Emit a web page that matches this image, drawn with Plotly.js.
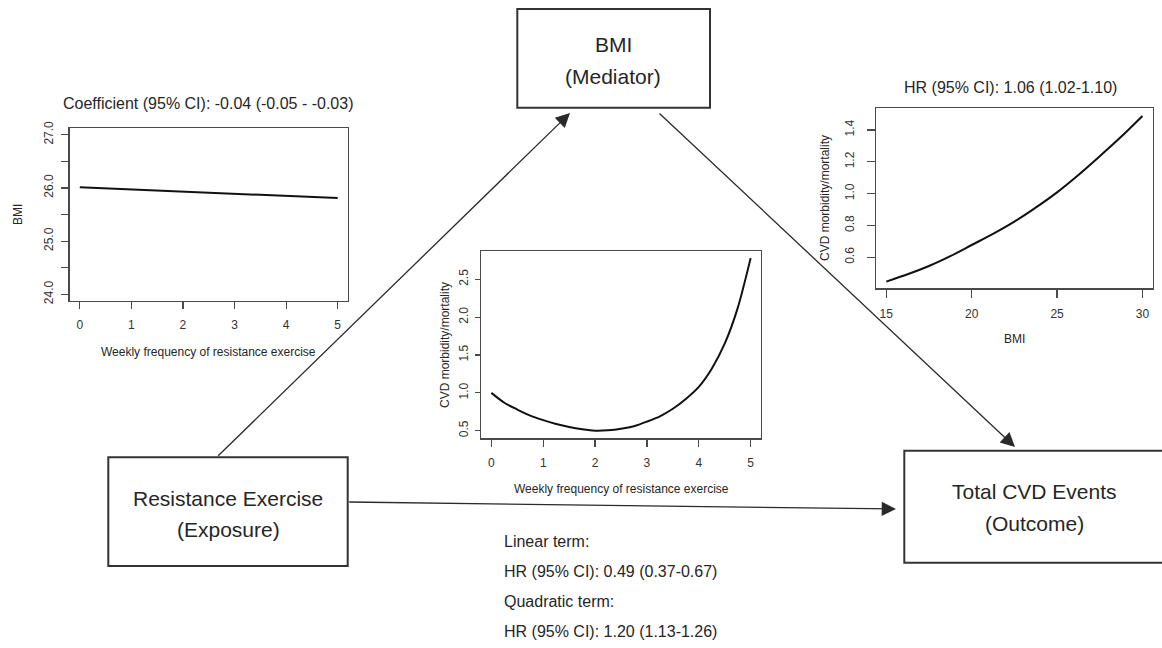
<!DOCTYPE html>
<html>
<head>
<meta charset="utf-8">
<script src="https://cdn.plot.ly/plotly-3.0.1.min.js"></script>
<style>html,body{margin:0;padding:0;background:#fff;}#chart{width:1162px;height:648px;}</style>
</head>
<body>
<div id="chart"></div>
<script>
// ---- data ----
// Panel 1: BMI vs weekly frequency of resistance exercise
var freqLin = [0, 1, 2, 3, 4, 5];
var bmiByFreq = [26.01, 25.97, 25.93, 25.89, 25.85, 25.81];
var bmiPanelTitle = "Coefficient (95% CI): -0.04 (-0.05 - -0.03)";

// Panel 2: CVD morbidity/mortality vs weekly frequency
var freqQuad = [0, 0.25, 0.5, 0.75, 1, 1.25, 1.5, 1.75, 2, 2.25, 2.5, 2.75, 3, 3.25, 3.5, 3.75, 4, 4.25, 4.5, 4.75, 5];
var cvdByFreq = [1.00, 0.87, 0.78, 0.70, 0.64, 0.59, 0.55, 0.52, 0.50, 0.505, 0.525, 0.56, 0.62, 0.69, 0.79, 0.92, 1.08, 1.32, 1.65, 2.12, 2.78];

// Panel 3: CVD morbidity/mortality vs BMI
var bmiVals = [15, 16.25, 17.5, 18.75, 20, 21.25, 22.5, 23.75, 25, 26.25, 27.5, 28.75, 30];
var cvdByBmi = [0.447, 0.493, 0.545, 0.607, 0.677, 0.747, 0.824, 0.912, 1.008, 1.117, 1.235, 1.357, 1.488];
var bmiHrTitle = "HR (95% CI): 1.06 (1.02-1.10)";

// Tick labels
var p1YTicks = [24, 24.5, 25, 25.5, 26, 26.5, 27];
var p1YText = ["24.0", "", "25.0", "", "26.0", "", "27.0"];
var freqTicks = [0, 1, 2, 3, 4, 5];
var p2YTicks = [0.5, 1.0, 1.5, 2.0, 2.5];
var p2YText = ["0.5", "1.0", "1.5", "2.0", "2.5"];
var p3XTicks = [15, 20, 25, 30];
var p3YTicks = [0.6, 0.8, 1.0, 1.2, 1.4];
var p3YText = ["0.6", "0.8", "1.0", "1.2", "1.4"];

// Diagram texts
var boxExposure = ["Resistance Exercise", "(Exposure)"];
var boxMediator = ["BMI", "(Mediator)"];
var boxOutcome = ["Total CVD Events", "(Outcome)"];
var effectLines = ["Linear term:", "HR (95% CI): 0.49 (0.37-0.67)", "Quadratic term:", "HR (95% CI): 1.20 (1.13-1.26)"];
var xTitleFreq = "Weekly frequency of resistance exercise";
var yTitleCvd = "CVD morbidity/mortality";

// ---- layout helpers ----
var W = 1162, H = 648;
function PX(x) { return x / W; }
function PY(y) { return 1 - y / H; }
var FONT = "Liberation Sans, Arial, Helvetica, sans-serif";
var INK = "#262626";

function axisBase(extra) {
  var a = {
    showline: true, mirror: true, linecolor: "#4a4a4a", linewidth: 1.3,
    ticks: "outside", ticklen: 7, tickwidth: 1.2, tickcolor: "#4a4a4a",
    showgrid: false, zeroline: false, fixedrange: true,
    tickfont: {family: FONT, size: 12, color: "#333"}
  };
  for (var k in extra) a[k] = extra[k];
  return a;
}

var traces = [
  {x: freqLin, y: bmiByFreq, xaxis: "x", yaxis: "y", mode: "lines",
   line: {color: "#111", width: 2}, hoverinfo: "skip"},
  {x: freqQuad, y: cvdByFreq, xaxis: "x2", yaxis: "y2", mode: "lines",
   line: {color: "#111", width: 2, shape: "spline", smoothing: 0.8}, hoverinfo: "skip"},
  {x: bmiVals, y: cvdByBmi, xaxis: "x3", yaxis: "y3", mode: "lines",
   line: {color: "#111", width: 2, shape: "spline", smoothing: 0.8}, hoverinfo: "skip"}
];

var layout = {
  width: W, height: H,
  margin: {l: 0, r: 0, t: 0, b: 0, pad: 0},
  paper_bgcolor: "#fff", plot_bgcolor: "#fff",
  showlegend: false,
  xaxis: axisBase({domain: [PX(69.5), PX(348)], range: [-0.2, 5.2], tickvals: freqTicks, ticklabelstandoff: 6, anchor: "y"}),
  yaxis: axisBase({domain: [PY(300.7), PY(128.3)], range: [23.88, 27.12], tickvals: p1YTicks, ticktext: p1YText, tickangle: -90, ticklabelstandoff: 3, anchor: "x"}),
  xaxis2: axisBase({domain: [PX(481), PX(761)], range: [-0.2, 5.2], tickvals: freqTicks, ticklabelstandoff: 6, anchor: "y2"}),
  yaxis2: axisBase({domain: [PY(438.3), PY(251)], range: [0.40, 2.874], tickvals: p2YTicks, ticktext: p2YText, tickangle: -90, ticklen: 5, ticklabelstandoff: 2, anchor: "x2"}),
  xaxis3: axisBase({domain: [PX(876), PX(1152.7)], range: [14.4, 30.6], tickvals: p3XTicks, ticklen: 8, ticklabelstandoff: 6, anchor: "y3"}),
  yaxis3: axisBase({domain: [PY(288.3), PY(108.3)], range: [0.405, 1.536], tickvals: p3YTicks, ticktext: p3YText, tickangle: -90, ticklen: 8, ticklabelstandoff: 8, anchor: "x3"}),
  shapes: [],
  annotations: []
};

function rect(x0, y0, x1, y1) {
  layout.shapes.push({type: "rect", xref: "paper", yref: "paper",
    x0: PX(x0), x1: PX(x1), y0: PY(y1), y1: PY(y0),
    line: {color: "#333", width: 2}, fillcolor: "rgba(0,0,0,0)"});
}
function txt(s, x, y, size, opts) {
  var a = {text: s, x: PX(x), y: PY(y), xref: "paper", yref: "paper",
    showarrow: false, xanchor: "center", yanchor: "middle",
    font: {family: FONT, size: size, color: INK}};
  if (opts) for (var k in opts) a[k] = opts[k];
  layout.annotations.push(a);
}
function arrow(tx, ty, hx, hy) {
  layout.annotations.push({text: "", x: PX(hx), y: PY(hy), xref: "paper", yref: "paper",
    ax: tx - hx, ay: ty - hy, axref: "pixel", ayref: "pixel",
    showarrow: true, arrowhead: 2, arrowsize: 2.2, arrowwidth: 1.3, arrowcolor: "#2a2a2a",
    standoff: 0, startstandoff: 0});
}

// boxes
rect(108.3, 457.3, 347.7, 566);
rect(517.3, 9, 710, 107.7);
rect(904.3, 450.7, 1166, 562.7);
txt(boxExposure[0], 228, 498, 21);
txt(boxExposure[1], 228, 529, 21);
txt(boxMediator[0], 613, 45, 21);
txt(boxMediator[1], 613, 77, 21);
txt(boxOutcome[0], 1034, 491.7, 21);
txt(boxOutcome[1], 1034, 523.3, 21);

// arrows
arrow(216.7, 457.3, 570, 113);
arrow(658, 112, 1015, 447);
arrow(347.7, 502, 896, 509);

// panel titles
txt(bmiPanelTitle, 208, 103, 16);
txt(bmiHrTitle, 1010, 87.3, 16);

// axis titles
txt(xTitleFreq, 208, 351.7, 12);
txt("BMI", 18, 215, 12, {textangle: -90});
txt(xTitleFreq, 621, 489, 12);
txt(yTitleCvd, 445, 345, 12, {textangle: -90});
txt("BMI", 1014, 339, 12);
txt(yTitleCvd, 825, 198, 12, {textangle: -90});

// effect texts
var effY = [541, 571, 601, 631];
for (var i = 0; i < effectLines.length; i++) {
  txt(effectLines[i], 501.7, effY[i], 16, {xanchor: "left"});
}

Plotly.newPlot("chart", traces, layout, {staticPlot: true, displayModeBar: false});
</script>
</body>
</html>
